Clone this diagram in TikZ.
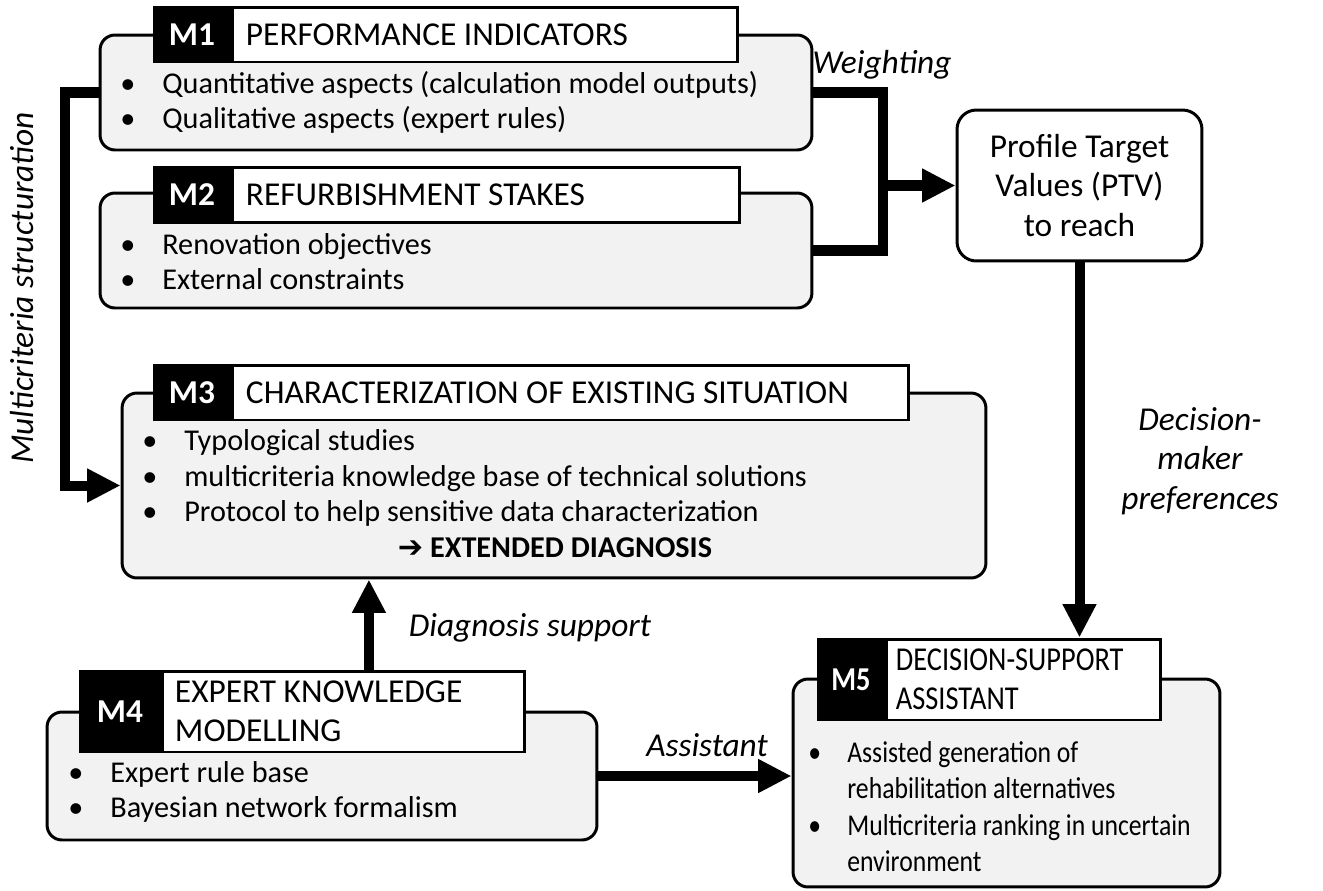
\documentclass[tikz,border=0pt]{standalone}
\usepackage{fontspec}
\setmainfont{Carlito}
\newfontfamily\symfont{DejaVu Sans}
\newfontfamily\narrow[FakeStretch=0.85]{Carlito}
\usetikzlibrary{arrows.meta}

\definecolor{boxgrey}{RGB}{242,242,242}
\newcommand{\fs}{\fontsize{17.2}{20}\selectfont}
\newcommand{\fh}{\fontsize{19}{22.5}\selectfont}
\newcommand{\bul}[2][0.84cm]{\makebox[#1][l]{\textbullet}#2}
\newcommand{\ind}[1][0.84cm]{\hspace*{#1}}

\tikzset{
	modbox/.style={draw, line width=1.7pt, rounded corners=8.5pt, fill=boxgrey},
	modtag/.style={draw, line width=1.7pt, fill=black, text=white, inner sep=0pt, font=\fh\bfseries},
	modhead/.style={draw, line width=1.7pt, fill=white, anchor=west, align=flush left, inner xsep=0.26cm, inner ysep=0pt, font=\fh,
		execute at begin node={\spaceskip=0pt\xspaceskip=0pt\relax}},
	bullets/.style={anchor=west, align=left, inner sep=0pt, font=\fs},
	lbl/.style={font=\fh\itshape},
	conn/.style={line width=5.7pt},
	flow/.style={conn, -{Triangle[length=19pt,width=18pt]}},
}

\begin{document}
\begin{tikzpicture}[x=0.02cm, y=-0.02cm]
	\useasboundingbox (0,0) rectangle (1323,890);

	\node[modbox, minimum width=14.24cm, minimum height=2.3cm] (m1) at (456,92.5) {};%M1
	\node[modtag, minimum width=1.52cm, minimum height=1.1cm] (m1n) at (192,34.5) {M1};
	\node[modhead, text width=9.58cm, minimum height=1.1cm] (m1t) at (m1n.east) {PERFORMANCE INDICATORS};
	\node[bullets] (m1i) at (120,102.5) {\bul{Quantitative aspects (calculation model outputs)}\\\bul{Qualitative aspects (expert rules)}};

	\node[modbox, minimum width=14.24cm, minimum height=2.3cm] (m2) at (456,250.5) {};%M2
	\node[modtag, minimum width=1.52cm, minimum height=1.1cm] (m2n) at (192,195) {M2};
	\node[modhead, text width=9.62cm, minimum height=1.1cm] (m2t) at (m2n.east) {REFURBISHMENT STAKES};
	\node[bullets] (m2i) at (120,261.5) {\bul{Renovation objectives}\\\bul{External constraints}};

	\node[modbox, minimum width=17.28cm, minimum height=3.7cm] (m3) at (554,485.5) {};%M3
	\node[modtag, minimum width=1.52cm, minimum height=1.1cm] (m3n) at (192,392.5) {M3};
	\node[modhead, text width=13cm, minimum height=1.1cm] (m3t) at (m3n.east) {CHARACTERIZATION OF EXISTING SITUATION};
	\node[bullets] (m3i) at (142,478) {\bul{Typological studies}\\\bul{multicriteria knowledge base of technical solutions}\\\bul{Protocol to help sensitive data characterization}};
	\node[font=\fs\bfseries] (m3d) at (555,548) {{\symfont ➔} EXTENDED DIAGNOSIS};

	\node[modbox, minimum width=11cm, minimum height=2.56cm] (m4) at (322,776) {};%M4
	\node[modtag, minimum width=1.6cm, minimum height=1.62cm] (m4n) at (120,711.5) {M4};
	\node[modhead, inner xsep=0.24cm, text width=6.76cm, minimum height=1.62cm] (m4t) at (m4n.east) {EXPERT KNOWLEDGE\\MODELLING};
	\node[bullets] (m4i) at (68,792) {\bul{Expert rule base}\\\bul{Bayesian network formalism}};

	\node[modbox, minimum width=8.54cm, minimum height=4.16cm] (m5) at (1006.5,783) {};%M5
	\node[modtag, minimum width=1.32cm, minimum height=1.62cm, font=\narrow\fh\bfseries] (m5n) at (851,679.5) {M5};
	\node[modhead, inner xsep=0.18cm, text width=5.12cm, minimum height=1.62cm, font=\narrow\fh] (m5t) at (m5n.east) {DECISION-SUPPORT\\ASSISTANT};
	\node[bullets, font=\narrow\fontsize{17.2}{20.8}\selectfont] (m5i) at (808,806.5) {\bul[0.78cm]{Assisted generation of}\\\ind[0.78cm]rehabilitation alternatives\\\bul[0.78cm]{Multicriteria ranking in uncertain}\\\ind[0.78cm]environment};

	\node[draw, line width=1.7pt, rounded corners=11pt, fill=white, align=center, minimum width=4.9cm, minimum height=3.02cm, font=\fh] (ptv) at (1079.5,185.5) {Profile Target\\Values (PTV)\\to reach};

	\coordinate (jn) at (883,185.5);%Knoten Weighting
	\draw[conn] (m1.east) -| (jn) |- (m2.east);
	\draw[flow] (jn) -- (ptv.west);
	\draw[flow] (m1.west) -- ++(-34,0) |- (m3.west);%Multicriteria
	\draw[flow] (ptv.south) -- (ptv.south |- m5t.north);
	\draw[flow] ([xshift=0.5cm]m4t.north) -- ([xshift=0.5cm]m4t.north |- m3.south);
	\draw[flow] (m4.east) -- (m4.east -| m5.west);

	\node[lbl] (wlbl) at (882,65) {Weighting};
	\node[lbl, rotate=90] (mlbl) at (22,288) {Multicriteria structuration};
	\node[lbl] (dlbl) at (530,628) {Diagnosis support};
	\node[lbl] (albl) at (707,745) {Assistant};
	\node[lbl, align=center] (plbl) at (1200,461) {Decision-\\maker\\preferences};
\end{tikzpicture}
\end{document}
